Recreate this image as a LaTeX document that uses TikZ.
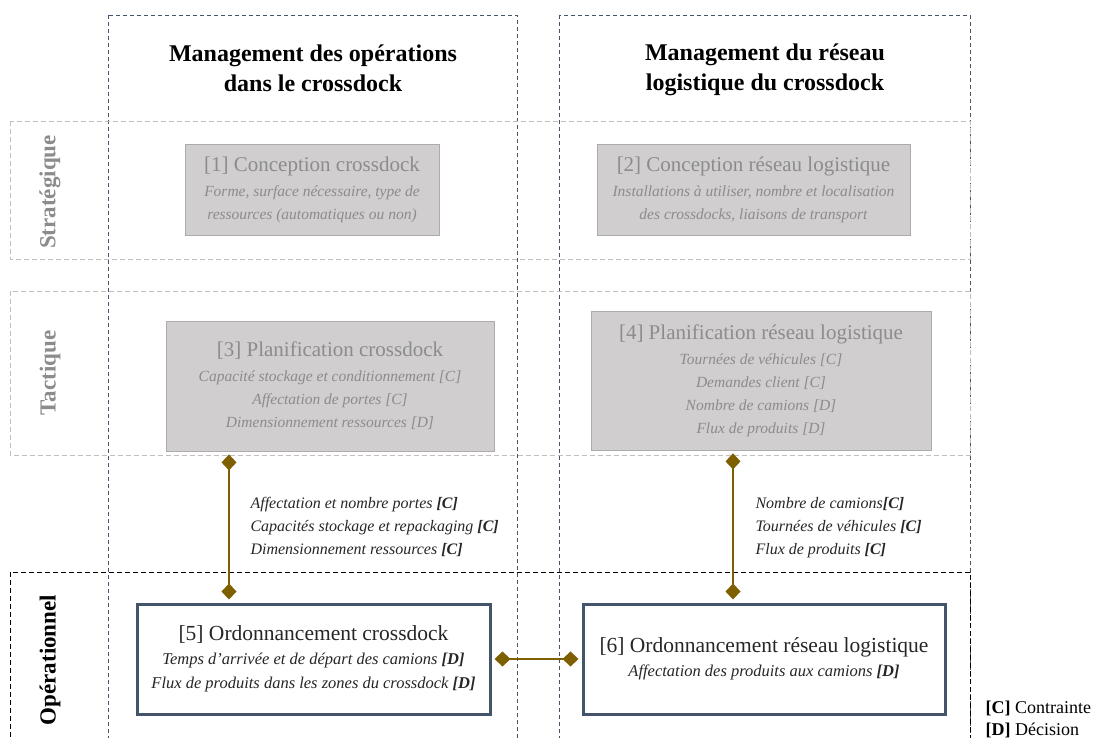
\documentclass[tikz,border=0pt]{standalone}
\usepackage{fontspec}
\setmainfont{Liberation Serif}
\usepackage{tikz}
\usetikzlibrary{arrows.meta}

\definecolor{colline}{HTML}{44546A}
\definecolor{rowgray}{HTML}{BFBFBF}
\definecolor{boxfill}{HTML}{D0CECE}
\definecolor{boxedge}{HTML}{AEAAAA}
\definecolor{boxtext}{HTML}{8C8C8C}
\definecolor{linkbrown}{HTML}{7F6000}

\begin{document}
\begin{tikzpicture}[x=1pt,y=-1pt,
    col frame/.style={draw=colline,line width=0.8pt,dash pattern=on 4pt off 3pt},
    row frame/.style={draw=rowgray,line width=0.9pt,dash pattern=on 5pt off 3pt},
    row label/.style={rotate=90,font=\fontsize{23}{26}\selectfont\bfseries},
    head node/.style={align=center,font=\fontsize{24}{30}\selectfont\bfseries},
    gray node/.style={draw=boxedge,fill=boxfill,text=boxtext,align=center,
                      line width=0.8pt,font=\fontsize{15.5}{23}\selectfont\itshape},
    oper node/.style={draw=colline,line width=3pt,fill=white,text=black!85,align=center,
                      font=\fontsize{16.5}{24}\selectfont\itshape},
    link/.style={draw=linkbrown,line width=2.8pt,<->,
                 >={Diamond[length=16pt,width=15pt]},
                 shorten <=3pt,shorten >=3pt},
    link label/.style={anchor=north west,align=left,text=black!85,
                       font=\fontsize{16}{23}\selectfont\itshape}]

  \clip (0,0) rectangle (1097,738);

  % columns and levels
  \draw[col frame] (108,15) rectangle (517,760);
  \draw[col frame] (559,15) rectangle (970,760);
  \draw[row frame] (10,121) rectangle (970,259);
  \draw[row frame] (10,291) rectangle (970,455);
  \draw[black,line width=0.9pt,dash pattern=on 5pt off 3pt] (10,572) rectangle (970,760);

  \node[head node] (h1) at (313,68) {Management des opérations\\dans le crossdock};
  \node[head node] (h2) at (765,70) {Management du réseau\\logistique du crossdock};

  \node[row label,text=boxtext] (l1) at (50,192) {Stratégique};
  \node[row label,text=boxtext] (l2) at (50,373) {Tactique};
  \node[row label,text=black] (l3) at (50,660) {Opérationnel};

  % decision boxes
  \node[gray node,minimum width=254pt,minimum height=91pt] (1) at (312,189.5)
    {{\upshape\fontsize{21}{24}\selectfont [1] Conception crossdock}\\[2pt]
     Forme, surface nécessaire, type de\\ressources (automatiques ou non)};
  \node[gray node,minimum width=313pt,minimum height=91pt] (2) at (753.5,189.5)
    {{\upshape\fontsize{21}{24}\selectfont [2] Conception réseau logistique}\\[2pt]
     Installations à utiliser, nombre et localisation\\des crossdocks, liaisons de transport};
  \node[gray node,minimum width=328pt,minimum height=130pt] (3) at (330,386)
    {{\upshape\fontsize{21}{24}\selectfont [3] Planification crossdock}\\[2pt]
     Capacité stockage et conditionnement [C]\\Affectation de portes [C]\\Dimensionnement ressources [D]};
  \node[gray node,minimum width=340pt,minimum height=139pt] (4) at (761,380.5)
    {{\upshape\fontsize{21}{24}\selectfont [4] Planification réseau logistique}\\[2pt]
     Tournées de véhicules [C]\\Demandes client [C]\\Nombre de camions [D]\\Flux de produits [D]};
  \node[oper node,minimum width=353pt,minimum height=110pt] (5) at (313.5,659)
    {{\upshape\fontsize{21.5}{24}\selectfont [5] Ordonnancement crossdock}\\
     Temps d'arrivée et de départ des camions \textbf{[D]}\\
     Flux de produits dans les zones du crossdock \textbf{[D]}};
  \node[oper node,minimum width=362pt,minimum height=110pt] (6) at (764,659)
    {{\upshape\fontsize{21.5}{24}\selectfont [6] Ordonnancement réseau logistique}\\
     Affectation des produits aux camions \textbf{[D]}};

  % links between levels
  \draw[link] ([xshift=-101pt]3.south) -- ([xshift=-84.5pt]5.north);
  \draw[link] ([xshift=-28pt]4.south) -- ([xshift=-31pt]6.north);
  \draw[link] (5.east) -- (6.west);

  \node[link label] (t35) at (247,494)
    {Affectation et nombre portes \textbf{[C]}\\
     Capacités stockage et repackaging \textbf{[C]}\\
     Dimensionnement ressources \textbf{[C]}};
  \node[link label] (t46) at (752,494)
    {Nombre de camions\textbf{[C]}\\
     Tournées de véhicules \textbf{[C]}\\
     Flux de produits \textbf{[C]}};

  % legend
  \node[anchor=west,font=\fontsize{18}{20}\selectfont] (leg1) at (982,708) {\textbf{[C]} Contrainte};
  \node[anchor=west,font=\fontsize{18}{20}\selectfont] (leg2) at (982,730) {\textbf{[D]} Décision};
\end{tikzpicture}
\end{document}
